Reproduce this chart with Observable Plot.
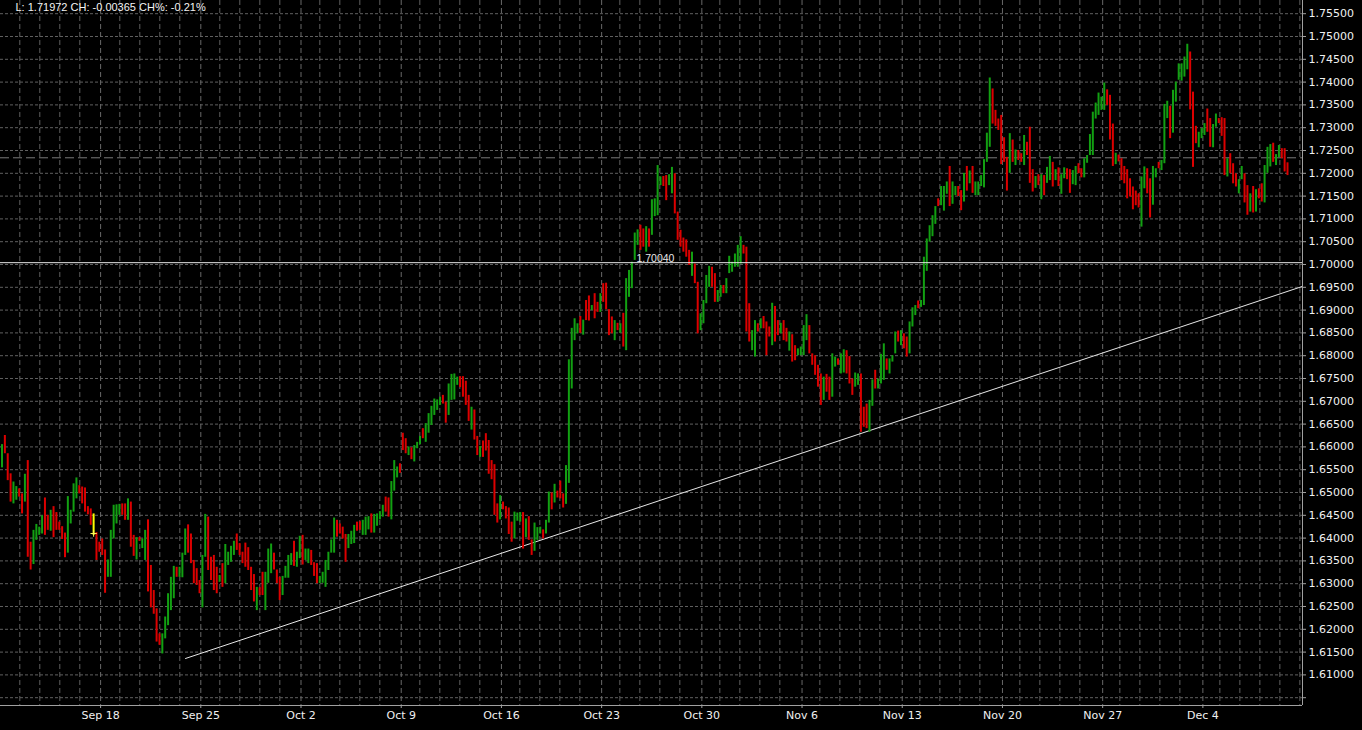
<!DOCTYPE html>
<html>
<head>
<meta charset="utf-8">
<style>
html, body { margin: 0; padding: 0; background: #000; overflow: hidden; }
#chart { width: 1362px; height: 730px; }
</style>
<script src="https://cdn.jsdelivr.net/npm/d3@7"></script>
<script src="https://cdn.jsdelivr.net/npm/@observablehq/plot@0.6"></script>
</head>
<body>
<div id="chart"></div>
<script>
// ---- Bar data (one row of 7 bars per day cell) ----
const high = [
1.6605,1.6625,1.6585,1.6541,1.6523,1.6513,1.6508,
1.6497,1.6540,1.6570,1.6391,1.6417,1.6430,1.6424,
1.6449,1.6488,1.6450,1.6461,1.6469,1.6456,1.6435,
1.6425,1.6411,1.6491,1.6461,1.6519,1.6532,1.6515,
1.6512,1.6510,1.6469,1.6464,1.6453,1.6412,1.6391,
1.6398,1.6374,1.6352,1.6417,1.6472,1.6473,1.6474,
1.6475,1.6475,1.6486,1.6479,1.6406,1.6401,1.6401,
1.6398,1.6417,1.6440,1.6340,1.6285,1.6245,1.6190,
1.6190,1.6227,1.6278,1.6314,1.6338,1.6336,1.6336,
1.6367,1.6420,1.6429,1.6409,1.6351,1.6333,1.6307,
1.6362,1.6452,1.6446,1.6358,1.6362,1.6336,1.6318,
1.6344,1.6386,1.6369,1.6382,1.6393,1.6409,1.6388,
1.6369,1.6389,1.6379,1.6336,1.6320,1.6292,1.6291,
1.6325,1.6325,1.6376,1.6387,1.6367,1.6330,1.6314,
1.6316,1.6338,1.6362,1.6366,1.6393,1.6369,1.6404,
1.6406,1.6376,1.6376,1.6373,1.6346,1.6344,1.6316,
1.6325,1.6351,1.6369,1.6396,1.6444,1.6439,1.6431,
1.6424,1.6408,1.6408,1.6415,1.6428,1.6435,1.6436,
1.6439,1.6446,1.6447,1.6453,1.6452,1.6453,1.6458,
1.6472,1.6490,1.6488,1.6524,1.6570,1.6556,1.6563,
1.6630,1.6618,1.6600,1.6598,1.6603,1.6610,1.6623,
1.6640,1.6651,1.6673,1.6689,1.6705,1.6703,1.6709,
1.6713,1.6698,1.6738,1.6759,1.6760,1.6753,1.6754,
1.6754,1.6744,1.6713,1.6687,1.6681,1.6623,1.6601,
1.6613,1.6629,1.6614,1.6570,1.6561,1.6475,1.6493,
1.6479,1.6469,1.6466,1.6435,1.6457,1.6455,1.6456,
1.6456,1.6442,1.6447,1.6396,1.6433,1.6423,1.6424,
1.6418,1.6439,1.6501,1.6499,1.6518,1.6503,1.6525,
1.6497,1.6559,1.6791,1.6860,1.6881,1.6870,1.6886,
1.6878,1.6921,1.6931,1.6910,1.6936,1.6917,1.6936,
1.6958,1.6959,1.6901,1.6885,1.6877,1.6871,1.6870,
1.6893,1.6969,1.6987,1.7005,1.7069,1.7076,1.7086,
1.7078,1.7083,1.7078,1.7142,1.7144,1.7217,1.7192,
1.7193,1.7195,1.7197,1.7213,1.7199,1.7115,1.7075,
1.7058,1.7054,1.7031,1.7027,1.7001,1.6961,1.6892,
1.6921,1.6976,1.6996,1.6994,1.6980,1.6943,1.6954,
1.6954,1.6969,1.7018,1.7005,1.7023,1.7042,1.7061,
1.7042,1.7038,1.6914,1.6855,1.6877,1.6870,1.6881,
1.6886,1.6874,1.6863,1.6915,1.6908,1.6877,1.6871,
1.6877,1.6860,1.6852,1.6846,1.6822,1.6815,1.6819,
1.6866,1.6890,1.6866,1.6804,1.6800,1.6779,1.6760,
1.6753,1.6759,1.6753,1.6804,1.6797,1.6793,1.6804,
1.6813,1.6811,1.6798,1.6749,1.6762,1.6760,1.6760,
1.6687,1.6694,1.6702,1.6747,1.6768,1.6749,1.6803,
1.6826,1.6793,1.6793,1.6800,1.6852,1.6854,1.6855,
1.6848,1.6841,1.6874,1.6905,1.6910,1.6920,1.6921,
1.7016,1.7056,1.7085,1.7107,1.7127,1.7144,1.7171,
1.7171,1.7181,1.7215,1.7181,1.7171,1.7171,1.7162,
1.7200,1.7215,1.7205,1.7215,1.7181,1.7181,1.7195,
1.7230,1.7288,1.7409,1.7385,1.7338,1.7319,1.7327,
1.7278,1.7235,1.7287,1.7273,1.7251,1.7250,1.7243,
1.7283,1.7268,1.7301,1.7208,1.7193,1.7197,1.7197,
1.7195,1.7213,1.7237,1.7224,1.7208,1.7212,1.7197,
1.7212,1.7210,1.7208,1.7206,1.7215,1.7221,1.7210,
1.7232,1.7239,1.7285,1.7334,1.7354,1.7376,1.7367,
1.7398,1.7383,1.7371,1.7308,1.7244,1.7240,1.7232,
1.7215,1.7208,1.7188,1.7170,1.7161,1.7155,1.7192,
1.7214,1.7210,1.7188,1.7215,1.7210,1.7224,1.7228,
1.7351,1.7358,1.7347,1.7382,1.7400,1.7440,1.7440,
1.7455,1.7483,1.7466,1.7378,1.7303,1.7290,1.7298,
1.7309,1.7341,1.7320,1.7307,1.7330,1.7320,1.7322,
1.7320,1.7232,1.7243,1.7221,1.7199,1.7186,1.7215,
1.7199,1.7173,1.7155,1.7171,1.7164,1.7166,1.7177,
1.7217,1.7257,1.7263,1.7266,1.7241,1.7261,1.7254,
1.7254,1.7223
];
const low = [
1.6554,1.6585,1.6526,1.6479,1.6475,1.6483,1.6490,
1.6453,1.6479,1.6358,1.6330,1.6342,1.6395,1.6406,
1.6409,1.6406,1.6417,1.6415,1.6401,1.6417,1.6417,
1.6397,1.6357,1.6367,1.6431,1.6457,1.6486,1.6497,
1.6475,1.6457,1.6451,1.6428,1.6406,1.6351,1.6369,
1.6362,1.6279,1.6314,1.6314,1.6398,1.6431,1.6450,
1.6450,1.6439,1.6439,1.6380,1.6360,1.6352,1.6393,
1.6377,1.6351,1.6282,1.6247,1.6233,1.6172,1.6165,
1.6146,1.6179,1.6208,1.6241,1.6267,1.6314,1.6314,
1.6313,1.6362,1.6367,1.6344,1.6300,1.6296,1.6278,
1.6247,1.6358,1.6329,1.6307,1.6285,1.6278,1.6303,
1.6292,1.6300,1.6340,1.6347,1.6362,1.6373,1.6362,
1.6344,1.6336,1.6329,1.6285,1.6260,1.6241,1.6274,
1.6274,1.6241,1.6301,1.6322,1.6330,1.6300,1.6263,
1.6274,1.6312,1.6312,1.6340,1.6338,1.6336,1.6355,
1.6341,1.6351,1.6344,1.6340,1.6316,1.6300,1.6300,
1.6301,1.6292,1.6329,1.6367,1.6367,1.6402,1.6409,
1.6398,1.6347,1.6377,1.6386,1.6388,1.6415,1.6417,
1.6406,1.6406,1.6418,1.6411,1.6411,1.6426,1.6440,
1.6446,1.6457,1.6446,1.6440,1.6503,1.6532,1.6542,
1.6592,1.6585,1.6581,1.6572,1.6567,1.6596,1.6605,
1.6618,1.6610,1.6630,1.6647,1.6669,1.6680,1.6691,
1.6694,1.6652,1.6669,1.6702,1.6703,1.6735,1.6730,
1.6709,1.6691,1.6656,1.6637,1.6615,1.6581,1.6577,
1.6577,1.6591,1.6540,1.6528,1.6450,1.6433,1.6440,
1.6462,1.6442,1.6408,1.6391,1.6398,1.6437,1.6435,
1.6376,1.6401,1.6395,1.6362,1.6371,1.6395,1.6409,
1.6398,1.6409,1.6433,1.6462,1.6477,1.6488,1.6486,
1.6466,1.6474,1.6520,1.6727,1.6833,1.6848,1.6849,
1.6845,1.6877,1.6876,1.6899,1.6881,1.6895,1.6895,
1.6917,1.6901,1.6844,1.6848,1.6833,1.6855,1.6849,
1.6819,1.6811,1.6928,1.6947,1.7009,1.7042,1.7031,
1.7038,1.7027,1.7038,1.7064,1.7105,1.7107,1.7173,
1.7171,1.7140,1.7173,1.7155,1.7111,1.7053,1.7038,
1.7027,1.7016,1.6998,1.6974,1.6958,1.6848,1.6855,
1.6870,1.6914,1.6950,1.6950,1.6917,1.6917,1.6928,
1.6936,1.6936,1.6980,1.6983,1.6994,1.6994,1.7001,
1.7023,1.6852,1.6830,1.6811,1.6797,1.6852,1.6859,
1.6859,1.6800,1.6841,1.6822,1.6830,1.6844,1.6848,
1.6833,1.6830,1.6810,1.6786,1.6789,1.6800,1.6800,
1.6800,1.6833,1.6804,1.6779,1.6757,1.6731,1.6691,
1.6702,1.6720,1.6702,1.6709,1.6775,1.6779,1.6760,
1.6762,1.6760,1.6738,1.6713,1.6731,1.6735,1.6632,
1.6643,1.6640,1.6632,1.6689,1.6727,1.6727,1.6738,
1.6746,1.6768,1.6760,1.6786,1.6804,1.6830,1.6822,
1.6815,1.6797,1.6804,1.6863,1.6888,1.6903,1.6906,
1.6910,1.6985,1.7049,1.7061,1.7088,1.7127,1.7129,
1.7117,1.7154,1.7127,1.7132,1.7151,1.7149,1.7118,
1.7137,1.7161,1.7177,1.7156,1.7151,1.7151,1.7171,
1.7168,1.7224,1.7257,1.7308,1.7303,1.7294,1.7219,
1.7224,1.7161,1.7200,1.7224,1.7217,1.7228,1.7224,
1.7217,1.7239,1.7178,1.7159,1.7167,1.7173,1.7142,
1.7151,1.7178,1.7184,1.7170,1.7184,1.7171,1.7154,
1.7188,1.7186,1.7156,1.7175,1.7173,1.7199,1.7190,
1.7190,1.7222,1.7239,1.7239,1.7319,1.7327,1.7338,
1.7338,1.7349,1.7273,1.7215,1.7219,1.7225,1.7184,
1.7177,1.7144,1.7148,1.7120,1.7129,1.7124,1.7082,
1.7166,1.7155,1.7102,1.7130,1.7190,1.7210,1.7206,
1.7221,1.7320,1.7276,1.7288,1.7356,1.7404,1.7402,
1.7411,1.7427,1.7339,1.7213,1.7265,1.7256,1.7276,
1.7283,1.7290,1.7257,1.7256,1.7301,1.7309,1.7281,
1.7195,1.7192,1.7199,1.7177,1.7170,1.7155,1.7186,
1.7135,1.7108,1.7115,1.7113,1.7115,1.7144,1.7137,
1.7135,1.7200,1.7214,1.7224,1.7217,1.7234,1.7232,
1.7203,1.7195
];
// G = up bar, R = down bar (one group per day cell)
const direction = (
"GRRRGGR RGRRGGG GRRGRRR RRGGGGR RRRRRRR RRGGGGG RRGRRGR GGRRRRR GGGGGRG GGRRRRR GGRRRRG " +
"RGGGGRR RRRRRGR RGGGRRR GGGGRGG RGGRRRG GGGGGRR RRGGGRR GGGRGGG GRRGGGR RRGRGGG " +
"RGGGGGG RRGGGGR RRRGRRG RRRRRRG RRRRGGG RGRRGGG RGGRGRR RGGGGGR GRRGRRG RRRRGRG " +
"RGGGGGR RGRGGGG RRGGRRR RRRGRRG GGGRRGG RGGGGGG RRRGGRG RRRGRRG RRGRRGG GGRRRRR " +
"GRRGGRG GRRRGGR RRGGRGG GRGGGRG RRGGGRG GGGGGRG GGRGGRR GRGRGGG GGGRRRR RRGRGRR " +
"GRRRGRG RGGRGRG GRRGGRR GGGGGGG GRRRGRR RRRRRRG GRRGGRG GGRGGGG GGRRRGG GRRGGRR " +
"RGRRRGG RRGRGRR GGGRGGR RR").replace(/ /g, "");

const selectedBar = 32;          // highlighted (yellow) bar
const selectedBarClose = 1.6410;
const weekLabels = ["Sep 18","Sep 25","Oct 2","Oct 9","Oct 16","Oct 23","Oct 30","Nov 6","Nov 13","Nov 20","Nov 27","Dec 4"];
const weekStartBar = 34.44;      // bar position of the first labelled Monday
const barsPerWeek = 35;

const levelLine = 1.70040;       // horizontal line with price label
const levelLabelBar = 221.6;
const dashedLevel = 1.7234;      // dashed price line
const trendline = [{bar: 64.1, price: 1.6136}, {bar: 454.24, price: 1.6952}];

const lastClose = 1.71972, change = -0.00365, changePct = -0.21;

// ---- Scales / layout helpers ----
const xDomain = [-0.524, 454.24];
const yDomain = [1.603289, 1.757895];
const weekTicks = weekLabels.map((_, w) => weekStartBar + barsPerWeek * w);
const labelOf = new Map(weekTicks.map((t, w) => [t, weekLabels[w]]));
const gridStep = 6.986, gridStart = 6.217;
const dayGrid = d3.range(66).map(k => gridStart + gridStep * k)
  .filter(v => v < xDomain[1] - 0.5 && weekTicks.every(w => Math.abs(v - w) > 1.6));
const priceTicks = d3.range(31).map(k => +(1.605 + 0.005 * k).toFixed(3));

const bars = high.map((h, i) => ({bar: i, high: h, low: low[i], up: direction[i] === "G"}));
const upBars = bars.filter(d => d.up && d.bar !== selectedBar);
const downBars = bars.filter(d => !d.up && d.bar !== selectedBar);
const selBars = bars.filter(d => d.bar === selectedBar);

const headline = `L: ${lastClose.toFixed(5)} CH: ${change.toFixed(5)} CH%: ${changePct.toFixed(2)}%`;

const chart = Plot.plot({
  width: 1362,
  height: 730,
  marginLeft: 0,
  marginRight: 60,
  marginTop: 0,
  marginBottom: 25,
  style: {background: "#000", color: "#f0f0f0", fontFamily: "DejaVu Sans", fontSize: "11px"},
  x: {domain: xDomain, axis: null},
  y: {domain: yDomain, axis: null},
  marks: [
    Plot.ruleY(priceTicks, {stroke: "#606060", strokeDasharray: "3,2"}),
    Plot.ruleX(dayGrid, {stroke: "#606060", strokeDasharray: "5,3"}),
    Plot.ruleX(weekTicks, {stroke: "#686868", strokeDasharray: "5,3"}),
    Plot.ruleY([dashedLevel], {stroke: "#7a7a7a", strokeDasharray: "9,4"}),
    Plot.line(trendline, {x: "bar", y: "price", stroke: "#e8e8e8", strokeWidth: 1, clip: true}),
    Plot.ruleX(upBars, {x: "bar", y1: "low", y2: "high", stroke: "#12a012", strokeWidth: 2}),
    Plot.ruleX(downBars, {x: "bar", y1: "low", y2: "high", stroke: "#dc0000", strokeWidth: 2}),
    Plot.ruleX(selBars, {x: "bar", y1: "low", y2: "high", stroke: "#ffff00", strokeWidth: 2}),
    Plot.dot([selectedBarClose], {x: () => selectedBar, y: d => d, symbol: "plus", r: 2.2, stroke: "#ffff60", strokeWidth: 1}),
    Plot.ruleY([levelLine], {stroke: "#e8e8e8"}),
    Plot.text([levelLine], {x: () => levelLabelBar, y: d => d, text: d => d.toFixed(5), textAnchor: "start", lineAnchor: "bottom", dy: -1, fill: "#e8e8e8", fontFamily: "Liberation Sans", fontSize: 10.5}),
    Plot.ruleX([xDomain[1]], {stroke: "#a0a0a0"}),
    Plot.ruleY([yDomain[0]], {stroke: "#a0a0a0"}),
    Plot.axisY(priceTicks, {anchor: "right", label: null, tickSize: 3, tickPadding: 3, tickFormat: d => d < 1.6075 ? "" : d.toFixed(5), stroke: "#a0a0a0", fill: "#f0f0f0"}),
    Plot.axisX(weekTicks, {anchor: "bottom", label: null, tickSize: 3, tickPadding: 3, tickFormat: d => labelOf.get(d), stroke: "#a0a0a0", fill: "#f0f0f0"}),
    Plot.text([headline], {frameAnchor: "top-left", dx: 15, dy: 3, text: d => d, textAnchor: "start", lineAnchor: "top", fill: "#f4f4f4", fontFamily: "Liberation Sans", fontSize: 11})
  ]
});
document.getElementById("chart").appendChild(chart);
</script>
</body>
</html>
